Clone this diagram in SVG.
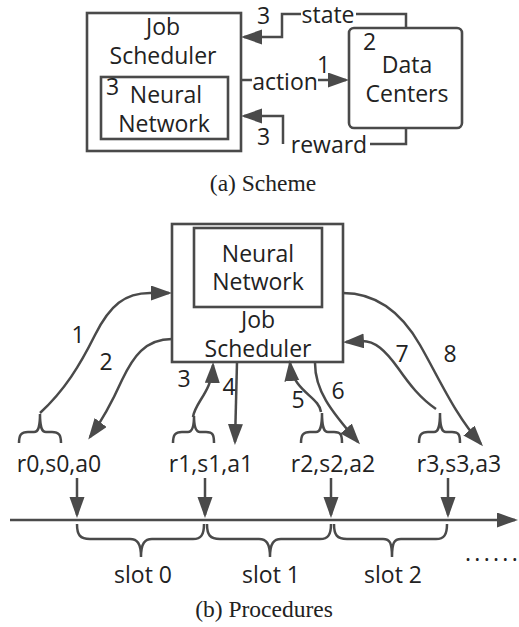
<svg xmlns="http://www.w3.org/2000/svg" width="519" height="627" viewBox="0 0 519 627">
<defs>
<marker id="ah" markerUnits="userSpaceOnUse" markerWidth="24" markerHeight="16" refX="18" refY="7.5" orient="auto"><path d="M0,0 L21,7.5 L0,15 z" fill="#4a4a4a"/></marker>
<style>
.box{fill:none;stroke:#4a4a4a;stroke-width:2.6}
.ln{fill:none;stroke:#4a4a4a;stroke-width:2.5}
.ar{fill:none;stroke:#4a4a4a;stroke-width:2.5;marker-end:url(#ah)}
.t{font-family:"Open Sans","Noto Sans",sans-serif;font-size:23px;fill:#222}
.m{text-anchor:middle}
.cap{font-family:"Liberation Serif",serif;font-size:23.5px;fill:#222;text-anchor:middle}
</style>
</defs>
<rect width="519" height="627" fill="#fff"/>

<!-- (a) Scheme -->
<g id="a-job-scheduler">
<rect class="box" x="87" y="13" width="154" height="138"/>
<text class="t m" x="163" y="35">Job</text>
<text class="t m" x="163" y="64">Scheduler</text>
</g>
<g id="a-neural-network">
<rect class="box" x="101" y="77" width="127" height="62"/>
<text class="t" x="106" y="95" font-size="20">3</text>
<text class="t m" x="166" y="103">Neural</text>
<text class="t m" x="164" y="132">Network</text>
</g>
<g id="a-data-centers">
<rect class="box" x="349" y="28" width="113" height="100" rx="5"/>
<text class="t" x="363" y="50">2</text>
<text class="t m" x="407" y="73">Data</text>
<text class="t m" x="407" y="102">Centers</text>
</g>
<g id="a-connectors">
<path class="ar" d="M406,28 V14 H356 M301,14 H282 V37 H244"/>
<text class="t m" x="328" y="23">state</text>
<text class="t" x="257" y="24">3</text>
<path class="ln" d="M241,80 H252"/>
<path class="ar" d="M318,80 H346"/>
<text class="t m" x="285" y="90">action</text>
<text class="t" x="317" y="73">1</text>
<path class="ar" d="M406,128 V144 H370 M283,144 V116 H244"/>
<text class="t m" x="329" y="153">reward</text>
<text class="t" x="257" y="145">3</text>
</g>
<text class="cap" x="263" y="191">(a) Scheme</text>

<!-- (b) Procedures -->
<g id="b-job-scheduler">
<rect class="box" x="172" y="224" width="171" height="138"/>
<text class="t m" x="258" y="328">Job</text>
<text class="t m" x="258" y="357">Scheduler</text>
</g>
<g id="b-neural-network">
<rect class="box" x="194" y="228" width="128" height="79"/>
<text class="t m" x="258" y="262">Neural</text>
<text class="t m" x="258" y="290">Network</text>
</g>
<g id="b-tuple-0">
<path class="ln" d="M19,443 C19,435 21,432 28,432 L34,432 C38,432 40,428 40,414 C40,428 42,432 46,432 L52,432 C59,432 61,435 61,443"/>
<text class="t m" x="59" y="472">r0,s0,a0</text>
</g>
<g id="b-tuple-1">
<path class="ln" d="M173,443 C173,435 175,432 182,432 L188,432 C192,432 194,428 194,416 C194,428 196,432 200,432 L206,432 C213,432 214,435 214,443"/>
<text class="t m" x="211" y="472">r1,s1,a1</text>
</g>
<g id="b-tuple-2">
<path class="ln" d="M301,443 C301,435 303,432 310,432 L316,432 C320,432 322,428 322,413 C322,428 324,432 328,432 L334,432 C341,432 342,435 342,443"/>
<text class="t m" x="333" y="472">r2,s2,a2</text>
</g>
<g id="b-tuple-3">
<path class="ln" d="M419,443 C419,435 421,432 428,432 L434,432 C438,432 440,428 440,413 C440,428 442,432 446,432 L452,432 C459,432 460,435 460,443"/>
<text class="t m" x="459" y="472">r3,s3,a3</text>
</g>
<g id="b-slots">
<path class="ln" d="M77,524 C77,535 80,539 90,539 L130,539 C137,539 141,543 141,557 C141,543 145,539 152,539 L193,539 C201,539 204,535 204,524"/>
<path class="ln" d="M207,524 C207,535 210,539 220,539 L259,539 C266,539 270,543 270,557 C270,543 274,539 281,539 L320,539 C328,539 331,535 331,524"/>
<path class="ln" d="M334,524 C334,535 337,539 347,539 L383,539 C390,539 392,543 392,557 C392,543 394,539 401,539 L436,539 C444,539 447,535 447,524"/>
<text class="t m" x="143" y="583">slot 0</text>
<text class="t m" x="271" y="583">slot 1</text>
<text class="t m" x="393" y="583">slot 2</text>
<text class="t" x="465" y="561" letter-spacing="3.3">......</text>
</g>
<g id="b-connectors">
<path class="ar" d="M40,413 C65,390 80,365 95,335 C110,305 125,293 150,293 L169,293"/>
<path class="ar" d="M172,339 C145,339 133,357 122,380 C113,400 104,418 90,437"/>
<path class="ar" d="M193,417 C195,402 212,392 213,365"/>
<path class="ar" d="M237,362 L235,442"/>
<path class="ar" d="M321,412 C319,396 293,392 290,363"/>
<path class="ar" d="M315,363 C315,390 330,410 358,442"/>
<path class="ar" d="M436,409 C420,398 410,385 398,368 C385,350 375,341 362,341 L346,342"/>
<path class="ar" d="M343,293 C375,293 400,310 420,345 C440,380 455,415 481,444"/>
<path class="ar" d="M77,478 V515"/>
<path class="ar" d="M205,478 V515"/>
<path class="ar" d="M331,478 V515"/>
<path class="ar" d="M448,478 V515"/>
<path class="ar" d="M10,520 H515"/>
<text class="t m" x="78" y="343">1</text>
<text class="t m" x="106" y="370">2</text>
<text class="t m" x="184" y="387">3</text>
<text class="t m" x="229" y="395">4</text>
<text class="t m" x="298" y="408">5</text>
<text class="t m" x="338" y="399">6</text>
<text class="t m" x="402" y="362">7</text>
<text class="t m" x="450" y="362">8</text>
</g>
<text class="cap" x="264" y="617">(b)  Procedures</text>
</svg>
